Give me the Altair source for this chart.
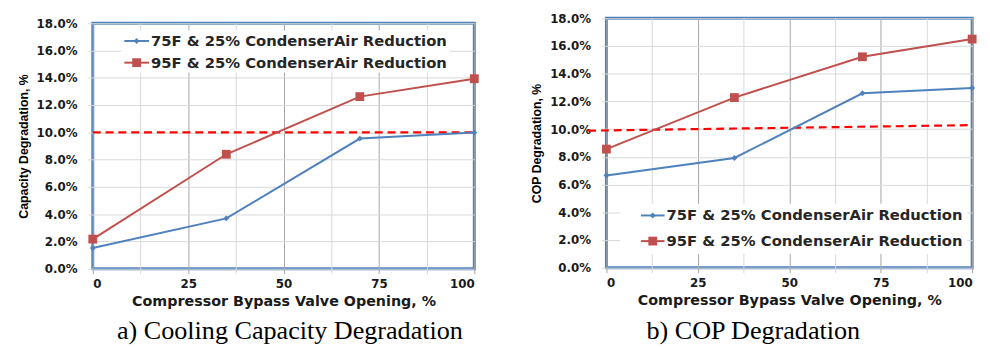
import altair as alt
import pandas as pd

# ---- data ----
x_open = [0, 35, 70, 100]
cap_75 = [0.0152, 0.0369, 0.0954, 0.0998]
cap_95 = [0.0217, 0.0839, 0.1262, 0.1393]
cop_75 = [0.0666, 0.0792, 0.1259, 0.1297]
cop_95 = [0.0856, 0.1228, 0.1522, 0.1650]
cap_limit_x = [0, 100]
cap_limit_y = [0.100, 0.100]
cop_limit_x = [-5, 100]
cop_limit_y = [0.0989, 0.1029]
series_names = ["75F & 25% CondenserAir Reduction", "95F & 25% CondenserAir Reduction"]
x_grid = [0, 12.5, 25, 37.5, 50, 62.5, 75, 87.5, 100]
y_ticks = [0, 0.02, 0.04, 0.06, 0.08, 0.10, 0.12, 0.14, 0.16, 0.18]
x_title = "Compressor Bypass Valve Opening, %"
y_titles = ["Capacity Degradation, %", "COP Degradation, %"]
captions = ["a) Cooling Capacity Degradation", "b) COP Degradation"]

BLUE = "#4F81BD"
RED = "#C0504D"
TICK_FONT = "DejaVu Sans"
NARROW_FONT = "Liberation Sans Narrow, Arial Narrow, Liberation Sans"


def panel(y75, y95, lim_x, lim_y, ytitle, caption, w, h, leg, cap_pos):
    d75 = pd.DataFrame({"x": x_open, "y": y75})
    d95 = pd.DataFrame({"x": x_open, "y": y95})
    dlim = pd.DataFrame({"x": lim_x, "y": lim_y})
    one = pd.DataFrame({"a": [0]})

    xenc = alt.X(
        "x:Q",
        scale=alt.Scale(domain=[0, 100], nice=False),
        axis=alt.Axis(
            values=x_grid,
            labelExpr="datum.value % 25 == 0 ? datum.label : ''",
            format="d",
            title=x_title,
            labelOverlap=False,
            gridColor={"condition": {"test": "datum.value % 25 == 0", "value": "#a6a6a6"}, "value": "#d9d9d9"},
            tickColor={"condition": {"test": "datum.value % 25 == 0", "value": "#a6a6a6"}, "value": "#d9d9d9"},
        ),
    )
    yenc = alt.Y(
        "y:Q",
        scale=alt.Scale(domain=[0, 0.18], nice=False),
        axis=alt.Axis(values=y_ticks, format=".1%", title=ytitle, labelOverlap=False),
    )

    base75 = alt.Chart(d75).encode(x=xenc, y=yenc)
    base95 = alt.Chart(d95).encode(x=xenc, y=yenc)

    lim = alt.Chart(dlim).mark_line(color="#FF0000", strokeWidth=2.2, strokeDash=[8, 5], clip=False).encode(x=xenc, y=yenc)

    l75 = base75.mark_line(color=BLUE, strokeWidth=2)
    p75 = base75.mark_point(shape="diamond", filled=True, color=BLUE, size=35, opacity=1)
    l95 = base95.mark_line(color=RED, strokeWidth=2)
    p95 = base95.mark_square(color=RED, size=80, opacity=1)

    lx0, lx1, ly0, ly1, bx0, bx1, by0, by1 = leg
    layers = []
    layers.append(alt.Chart(one).mark_rect(color="white").encode(
        x=alt.value(bx0), x2=alt.value(bx1), y=alt.value(by0), y2=alt.value(by1)))
    for i, (ly, col) in enumerate([(ly0, BLUE), (ly1, RED)]):
        layers.append(alt.Chart(one).mark_rule(color=col, strokeWidth=2).encode(
            x=alt.value(lx0), x2=alt.value(lx1), y=alt.value(ly)))
        if i == 0:
            layers.append(alt.Chart(one).mark_point(shape="diamond", filled=True, color=col, size=35, opacity=1).encode(
                x=alt.value((lx0 + lx1) / 2), y=alt.value(ly)))
        else:
            layers.append(alt.Chart(one).mark_square(color=col, size=80, opacity=1).encode(
                x=alt.value((lx0 + lx1) / 2), y=alt.value(ly)))
        layers.append(alt.Chart(one).mark_text(
            align="left", baseline="middle", font=TICK_FONT, fontWeight="bold", fontSize=15, color="#262626"
        ).encode(x=alt.value(lx1 + 2), y=alt.value(ly), text=alt.value(series_names[i])))

    cx, cy = cap_pos
    layers.append(alt.Chart(one).mark_text(
        align="center", baseline="alphabetic", font="Liberation Serif", fontSize=26.5, color="#000000"
    ).encode(x=alt.value(cx), y=alt.value(cy), text=alt.value(caption)))

    return alt.layer(*layers, lim, l75, l95, p75, p95).properties(width=w, height=h)


left = panel(cap_75, cap_95, cap_limit_x, cap_limit_y, y_titles[0], captions[0], 387, 249,
             (32, 57, 18, 40, 29, 362, 7, 50), (200, 320))
right = panel(cop_75, cop_95, cop_limit_x, cop_limit_y, y_titles[1], captions[1], 371, 253,
              (35, 59, 200, 226, 14, 366, 188, 239), (149, 325))

# invisible spacer that lowers the left panel a few pixels
spacer = alt.Chart(pd.DataFrame({"a": [0]})).mark_rule(opacity=0).encode(
    x=alt.value(0), y=alt.value(0)
).properties(width=1, height=1, view=alt.ViewConfig(stroke="transparent", strokeWidth=0))

left_col = alt.vconcat(spacer, left, spacing=4, bounds="flush")

chart = alt.hconcat(left_col, right, spacing=49).properties(
    background="white", padding={"left": 7, "top": 0, "right": 4, "bottom": 0}
).configure_view(
    stroke=BLUE, strokeWidth=3
).configure_axis(
    labelFont=TICK_FONT, labelFontWeight="bold", labelFontSize=12, labelColor="#1a1a1a",
    gridColor="#d9d9d9", tickColor="#d9d9d9", domain=False, tickSize=5, labelOverlap=False,
).configure_axisX(
    titleFont=TICK_FONT, titleFontWeight="bold", titleFontSize=14.5, titleColor="#1a1a1a",
    titlePadding=5, labelPadding=5,
).configure_axisY(
    titleFont=NARROW_FONT, titleFontWeight="bold", titleFontSize=12.5, titleColor="#000000",
    titlePadding=6, labelPadding=11,
)

chart.save("out.html", embed_options={"renderer": "svg", "actions": False})
